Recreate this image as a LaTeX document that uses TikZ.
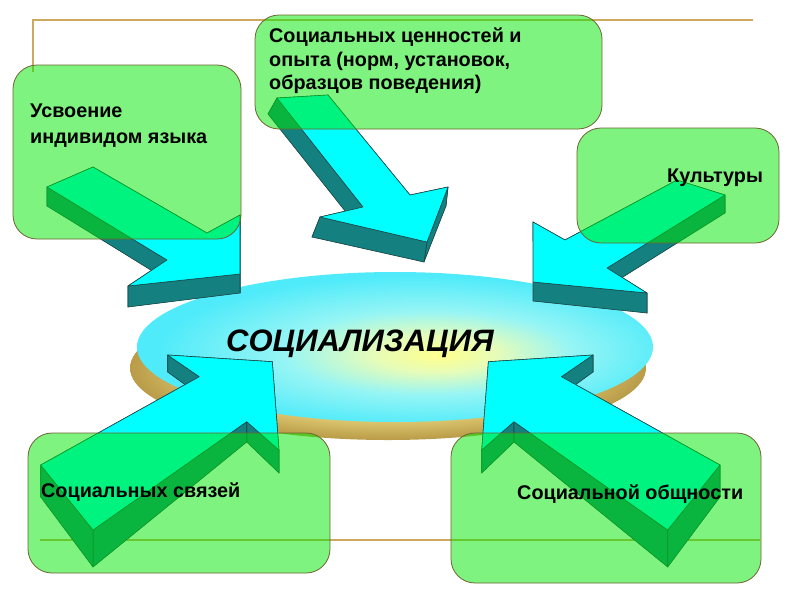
\documentclass[tikz,border=0pt]{standalone}
\usepackage{fontspec}
\setmainfont{Liberation Sans}
\usetikzlibrary{shapes.geometric}
\definecolor{arrtopc}{RGB}{0,255,255}
\definecolor{arrsidec}{RGB}{20,128,128}
\definecolor{arredge}{RGB}{30,70,70}
\definecolor{boxfill}{RGB}{0,232,0}
\definecolor{boxedge}{RGB}{110,100,50}
\definecolor{decol}{RGB}{205,168,95}
\definecolor{ellA}{RGB}{255,255,140}
\definecolor{ellB}{RGB}{230,252,185}
\definecolor{ellC}{RGB}{150,245,245}
\definecolor{ellD}{RGB}{80,235,250}
\definecolor{goldA}{RGB}{240,225,150}
\definecolor{goldB}{RGB}{228,208,120}
\definecolor{goldC}{RGB}{185,155,72}
\pgfdeclareradialshading{socshade}{\pgfpoint{4.4bp}{-2.7bp}}{color(0bp)=(ellA); color(6bp)=(ellB); color(14bp)=(ellC); color(25bp)=(ellD); color(50bp)=(ellD)}
\pgfdeclareradialshading{goldshade}{\pgfpoint{0bp}{0bp}}{color(0bp)=(goldA); color(17bp)=(goldB); color(25bp)=(goldC); color(50bp)=(goldC)}
\newcommand\mkblockarrow[2]{%
  \fill[arrsidec] (#1b1) -- (#1b2) -- (#1b3) -- (#1b4) -- (#1b5) -- (#1b6) -- (#1b7) -- cycle;
  \foreach \i/\j in {#2} {\filldraw[arrside] (#1t\i) -- (#1t\j) -- (#1b\j) -- (#1b\i) -- cycle;}
  \filldraw[arrtop] (#1t1) -- (#1t2) -- (#1t3) -- (#1t4) -- (#1t5) -- (#1t6) -- (#1t7) -- cycle;
}
\begin{document}
\begin{tikzpicture}[x=1pt,y=-1pt,
  arrtop/.style={fill=arrtopc, draw=arredge, line width=0.6pt, line join=round},
  arrside/.style={fill=arrsidec, draw=arredge, line width=0.6pt, line join=round},
  gbox/.style={draw=boxedge, line width=0.8pt, fill=boxfill, fill opacity=0.5, rounded corners=24pt, inner sep=0pt},
  boxtext/.style={anchor=base west, inner sep=0pt, font=\fontsize{19.8}{24}\selectfont\bfseries, text=black},
  decoline/.style={draw=decol, line width=1.5pt}]
\useasboundingbox (0,0) rectangle (800,600);
\fill[white] (0,0) rectangle (800,600);
% decorative lines
\draw[decoline] (33,72) -- (33,20) -- (753,20);
\draw[decoline] (40,540) -- (760,540);
% central ellipse
\node[ellipse, minimum width=516pt, minimum height=144pt, draw=none, shade, shading=goldshade] (socshadow) at (388,368) {};
\node[ellipse, minimum width=516pt, minimum height=150pt, draw=none, shade, shading=socshade] (soc) at (395,347) {};
\node[anchor=base west, inner sep=0pt, font=\fontsize{31}{36}\selectfont\bfseries\itshape] (soctext) at (226,351) {СОЦИАЛИЗАЦИЯ};
% arrow 1
\coordinate (pAt1) at (47,187);   \coordinate (pAb1) at (47,206);
\coordinate (pAt2) at (93,167);   \coordinate (pAb2) at (93,186);
\coordinate (pAt3) at (207,233);  \coordinate (pAb3) at (207,252);
\coordinate (pAt4) at (240,215);  \coordinate (pAb4) at (240,234);
\coordinate (pAt5) at (240,274);  \coordinate (pAb5) at (240,293);
\coordinate (pAt6) at (128,286);  \coordinate (pAb6) at (128,307);
\coordinate (pAt7) at (167,260);  \coordinate (pAb7) at (167,280);
\mkblockarrow{pA}{1/2,2/3,3/4,4/5,6/7,7/1,5/6}
% arrow 2
\coordinate (pBt1) at (277,98);   \coordinate (pBb1) at (268,114);
\coordinate (pBt2) at (328,95);   \coordinate (pBb2) at (321,111);
\coordinate (pBt3) at (410,195);  \coordinate (pBb3) at (406,214);
\coordinate (pBt4) at (448,187);  \coordinate (pBb4) at (446,206);
\coordinate (pBt5) at (427,242);  \coordinate (pBb5) at (424,262);
\coordinate (pBt6) at (320,217);  \coordinate (pBb6) at (312,237);
\coordinate (pBt7) at (363,207);  \coordinate (pBb7) at (357,226);
\mkblockarrow{pB}{1/2,2/3,3/4,6/7,4/5,7/1,5/6}
% arrow 3
\coordinate (pCt1) at (677,180);  \coordinate (pCb1) at (677,199);
\coordinate (pCt2) at (725,195);  \coordinate (pCb2) at (725,213);
\coordinate (pCt3) at (607,268);  \coordinate (pCb3) at (607,287);
\coordinate (pCt4) at (647,293);  \coordinate (pCb4) at (647,313);
\coordinate (pCt5) at (533,282);  \coordinate (pCb5) at (533,301);
\coordinate (pCt6) at (533,222);  \coordinate (pCb6) at (533,241);
\coordinate (pCt7) at (565,240);  \coordinate (pCb7) at (565,259);
\mkblockarrow{pC}{1/2,3/4,5/6,6/7,7/1,2/3,4/5}
% arrow 4
\coordinate (pDt1) at (40.7,465);  \coordinate (pDb1) at (40.7,497);
\coordinate (pDt2) at (199.3,376.7); \coordinate (pDb2) at (199.3,395);
\coordinate (pDt3) at (167.7,355); \coordinate (pDb3) at (167.7,372);
\coordinate (pDt4) at (272.3,361.7); \coordinate (pDb4) at (272.3,380);
\coordinate (pDt5) at (279,450);   \coordinate (pDb5) at (279,473);
\coordinate (pDt6) at (246.7,421.7); \coordinate (pDb6) at (246.7,442);
\coordinate (pDt7) at (93,530);    \coordinate (pDb7) at (93,567);
\mkblockarrow{pD}{1/2,3/4,4/5,2/3,5/6,6/7,7/1}
% arrow 5
\coordinate (pEt1) at (720,465);   \coordinate (pEb1) at (720,497);
\coordinate (pEt2) at (561.4,376.7); \coordinate (pEb2) at (561.4,395);
\coordinate (pEt3) at (593,355);   \coordinate (pEb3) at (593,372);
\coordinate (pEt4) at (488.4,361.7); \coordinate (pEb4) at (488.4,380);
\coordinate (pEt5) at (481.7,450); \coordinate (pEb5) at (481.7,473);
\coordinate (pEt6) at (514,421.7); \coordinate (pEb6) at (514,442);
\coordinate (pEt7) at (667.7,530); \coordinate (pEb7) at (667.7,567);
\mkblockarrow{pE}{1/2,3/4,4/5,2/3,5/6,6/7,7/1}
% boxes
\node[gbox, minimum width=228pt, minimum height=174pt] (box1) at (127,152) {};
\node[gbox, minimum width=347pt, minimum height=114pt] (box2) at (428.5,72) {};
\node[gbox, minimum width=202pt, minimum height=115pt] (box3) at (678,185.5) {};
\node[gbox, minimum width=302pt, minimum height=140pt] (box4) at (179,503) {};
\node[gbox, minimum width=310pt, minimum height=150pt] (box5) at (606,508) {};
% texts
\node[boxtext] (t1a) at (30,117) {Усвоение};
\node[boxtext] (t1b) at (30,143) {индивидом языка};
\node[boxtext] (t2a) at (269,42) {Социальных ценностей и};
\node[boxtext] (t2b) at (269,66) {опыта (норм, установок,};
\node[boxtext] (t2c) at (269,89) {образцов поведения)};
\node[boxtext] (t3) at (667,182) {Культуры};
\node[boxtext] (t4) at (41,497) {Социальных связей};
\node[boxtext] (t5) at (517,499) {Социальной общности};
\end{tikzpicture}
\end{document}
